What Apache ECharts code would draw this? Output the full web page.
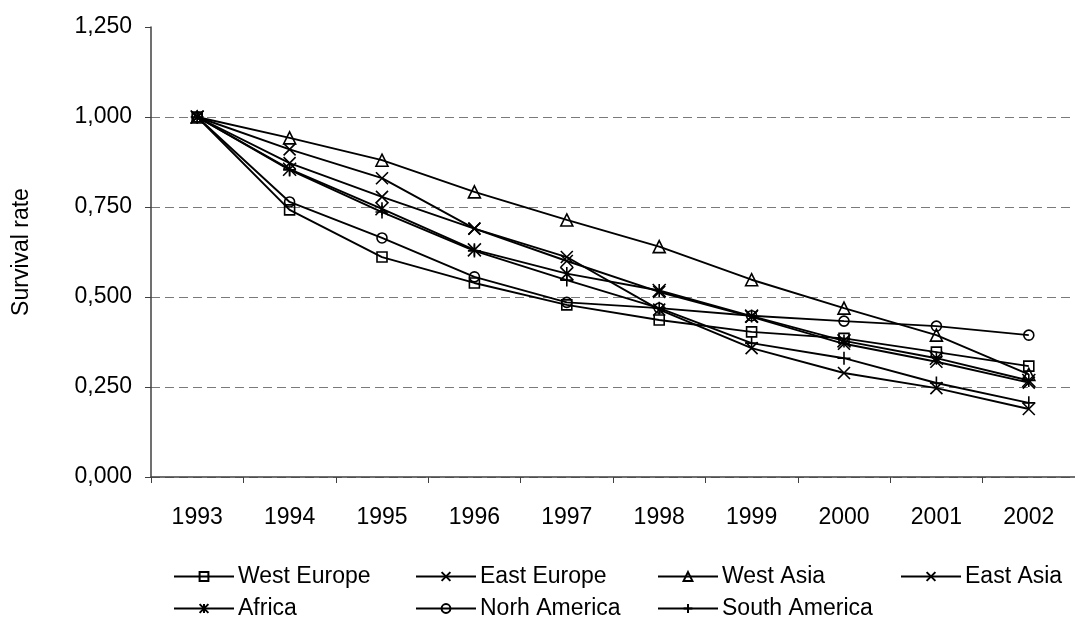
<!DOCTYPE html>
<html>
<head>
<meta charset="utf-8">
<script src="https://cdn.jsdelivr.net/npm/echarts@6/dist/echarts.min.js"></script>
<style>
  html, body { margin: 0; padding: 0; background: #fff; }
  #chart { width: 1075px; height: 626px; }
</style>
</head>
<body>
<div id="chart"></div>
<script>
// Survival rate by region, 1993 = 1.000
const years = ['1993', '1994', '1995', '1996', '1997', '1998', '1999', '2000', '2001', '2002'];
const westEurope   = [1.000, 0.742, 0.611, 0.539, 0.478, 0.436, 0.403, 0.385, 0.347, 0.308];
const eastEurope   = [1.000, 0.910, 0.830, 0.690, 0.611, 0.465, 0.358, 0.289, 0.247, 0.189];
const westAsia     = [1.000, 0.942, 0.880, 0.792, 0.714, 0.640, 0.548, 0.469, 0.394, 0.285];
const eastAsia     = [1.000, 0.872, 0.778, 0.690, 0.600, 0.514, 0.445, 0.370, 0.320, 0.262];
const africa       = [1.000, 0.855, 0.745, 0.631, 0.565, 0.518, 0.447, 0.378, 0.330, 0.268];
const northAmerica = [1.000, 0.764, 0.664, 0.556, 0.485, 0.469, 0.448, 0.433, 0.419, 0.394];
const southAmerica = [1.000, 0.853, 0.736, 0.628, 0.547, 0.469, 0.372, 0.330, 0.261, 0.206];
const yTicks = [0, 0.25, 0.5, 0.75, 1.0, 1.25];

const FONT = 'Liberation Sans';
const FONT_SIZE = 23;
const INK = '#000';

// Open stroke-only marker shapes
const SYM_X = 'path://M0,0L10,10M10,0L0,10';
const SYM_STAR = 'path://M0,0L10,10M10,0L0,10M5,0L5,10';
const SYM_PLUS = 'path://M5,0L5,10M0,5L10,5';

const seriesDefs = [
  { name: 'West Europe',   data: westEurope,   symbol: 'rect',     size: 10 },
  { name: 'East Europe',   data: eastEurope,   symbol: SYM_X,      size: 12 },
  { name: 'West Asia',     data: westAsia,     symbol: 'triangle', size: 12 },
  { name: 'East Asia',     data: eastAsia,     symbol: SYM_X,      size: 12 },
  { name: 'Africa',        data: africa,       symbol: SYM_STAR,   size: 13 },
  { name: 'Norh America',  data: northAmerica, symbol: 'circle',   size: 10 },
  { name: 'South America', data: southAmerica, symbol: SYM_PLUS,   size: 13 }
];

// Legend laid out as a fixed 4-column grid
const legendPos = [
  [173, 565], [415, 565], [657, 565], [900, 565],
  [173, 597], [415, 597], [657, 597]
];

const chart = echarts.init(document.getElementById('chart'), null, { renderer: 'canvas' });

chart.setOption({
  backgroundColor: '#fff',
  animation: false,
  textStyle: { fontFamily: FONT, color: INK },
  grid: { left: 151, right: -3, top: 27, bottom: 149 },
  legend: seriesDefs.map((s, i) => ({
    data: [s.name],
    left: legendPos[i][0],
    top: legendPos[i][1],
    itemWidth: 60,
    itemHeight: 11,
    itemGap: 4,
    padding: 0,
    selectedMode: false,
    textStyle: { fontFamily: FONT, fontSize: FONT_SIZE, color: INK, padding: [0, 0, 0, -1] }
  })),
  xAxis: {
    type: 'category',
    data: years,
    boundaryGap: true,
    axisLine: { lineStyle: { color: '#404040', width: 1.5 } },
    axisTick: { show: true, length: 6, lineStyle: { color: '#404040', width: 1 } },
    axisLabel: { fontFamily: FONT, fontSize: FONT_SIZE, color: INK, margin: 29 },
    splitLine: { show: false }
  },
  yAxis: {
    type: 'value',
    min: 0,
    max: 1.25,
    interval: 0.25,
    name: 'Survival rate',
    nameLocation: 'middle',
    nameGap: 118,
    nameRotate: 90,
    nameTextStyle: { fontFamily: FONT, fontSize: FONT_SIZE, color: INK },
    axisLine: { show: true, lineStyle: { color: '#404040', width: 1.5 } },
    axisTick: { show: true, length: 6, lineStyle: { color: '#404040', width: 1 } },
    axisLabel: {
      fontFamily: FONT, fontSize: FONT_SIZE, color: INK, margin: 19,
      formatter: v => v.toFixed(3).replace('.', ',')
    },
    splitLine: {
      show: true,
      lineStyle: {
        // no dashed line along the top of the plot
        color: yTicks.map(t => (t === 1.25 ? 'rgba(0,0,0,0)' : '#7a7a7a')),
        type: [9, 5],
        width: 1
      }
    }
  },
  series: seriesDefs.map(s => ({
    name: s.name,
    type: 'line',
    data: s.data,
    symbol: s.symbol,
    symbolSize: s.size,
    showSymbol: true,
    lineStyle: { color: INK, width: 1.9 },
    itemStyle: { color: 'rgba(0,0,0,0)', borderColor: INK, borderWidth: 1.6 },
    emphasis: { disabled: true }
  }))
});
</script>
</body>
</html>
